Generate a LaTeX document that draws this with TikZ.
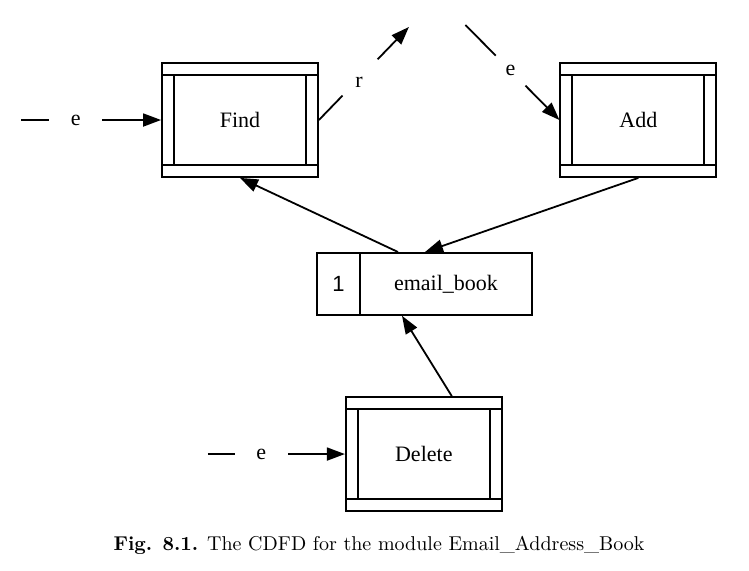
\documentclass[tikz,border=0pt]{standalone}
\usepackage{fontspec}
\usetikzlibrary{arrows.meta}
\newfontfamily\dfdfont{Liberation Serif}
\newfontfamily\numfont{Liberation Sans}
\tikzstyle{process} = [rectangle, minimum width=78pt, minimum height=57pt, text centered, draw=black, font=\dfdfont\fontsize{11}{13}\selectfont,
  path picture={
    \draw ([yshift=-6pt]path picture bounding box.north west) -- ([yshift=-6pt]path picture bounding box.north east);
    \draw ([yshift=6pt]path picture bounding box.south west) -- ([yshift=6pt]path picture bounding box.south east);
    \draw ([shift={(6pt,-6pt)}]path picture bounding box.north west) -- ([shift={(6pt,6pt)}]path picture bounding box.south west);
    \draw ([shift={(-6pt,-6pt)}]path picture bounding box.north east) -- ([shift={(-6pt,6pt)}]path picture bounding box.south east);
  }]
\tikzstyle{datastore} = [rectangle, minimum width=86pt, minimum height=31pt, text centered, draw=black, font=\dfdfont\fontsize{11}{13}\selectfont]
\tikzstyle{storeid} = [rectangle, minimum width=21.5pt, minimum height=31pt, text centered, draw=black, font=\numfont\fontsize{11}{13}\selectfont]
\tikzstyle{inlabel} = [fill=white, inner xsep=10.8pt, inner ysep=1pt, font=\dfdfont\fontsize{11}{13}\selectfont]
\tikzstyle{flowlabel} = [circle, fill=white, inner sep=0pt, minimum size=21pt, font=\dfdfont\fontsize{11}{13}\selectfont]
\tikzstyle{arrow} = [->,>={Triangle[length=9pt,width=6.5pt]}]

\begin{document}
\begin{tikzpicture}[node distance=2cm, line width=0.9pt]
\useasboundingbox (-120pt,60pt) rectangle (254.5pt,-225pt);
\node (find) [process] {Find};
\node (add) [process, right of=find, xshift=5cm] {Add};
\node (book) [datastore, below of=find, xshift=3.62cm, yshift=-0.88cm] {email\_book};
\node (bookid) [storeid, left of=book, xshift=0.11cm] {1};
\node (delete) [process, below of=book, xshift=-0.39cm, yshift=-0.99cm] {Delete};

% free ends of the flows
\coordinate (findin) at ([xshift=-70pt]find.west);
\coordinate (deletein) at ([xshift=-68.5pt]delete.west);
\coordinate (rout) at ([shift={(45pt,46.5pt)}]find.east);
\coordinate (ein) at ([shift={(-47pt,47.5pt)}]add.west);

\draw [arrow] (findin) -- node[inlabel, pos=0.39] {e} (find);
\draw [arrow] (deletein) -- node[inlabel, pos=0.39] {e} (delete);
\draw [arrow] (find.east) -- node[flowlabel, pos=0.49, label={[flowlabel, shift={(-2pt,-4pt)}]center:r}] {} (rout);
\draw [arrow] (ein) -- node[flowlabel, pos=0.48] {e} (add.west);
\draw [arrow] ([xshift=-24pt]book.north) -- (find.south);
\draw [arrow] (add.south) -- ([xshift=-10.5pt]book.north);
\draw [arrow] ([xshift=14pt]delete.north) -- ([xshift=-22pt]book.south);

\node (caption) at (69.5pt,-212.5pt) {\textbf{Fig. 8.1.} The CDFD for the module Email\_Address\_Book};
\end{tikzpicture}
\end{document}
